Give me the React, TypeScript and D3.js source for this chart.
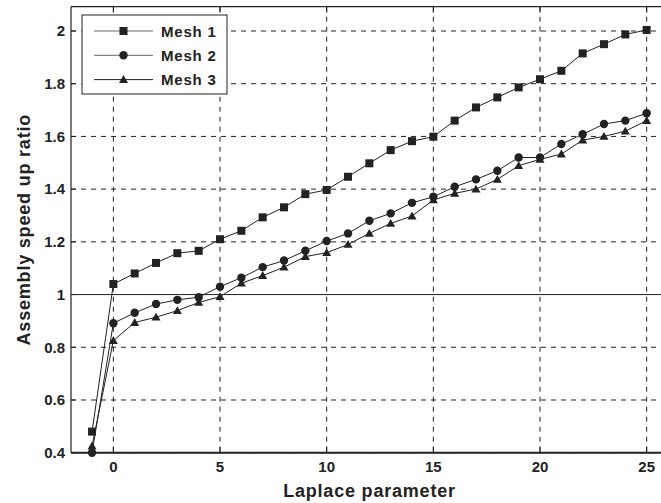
import React from "react";
import * as d3 from "d3";

const xValues = [-1, 0, 1, 2, 3, 4, 5, 6, 7, 8, 9, 10, 11, 12, 13, 14, 15, 16, 17, 18, 19, 20, 21, 22, 23, 24, 25];
const mesh1 = [0.48, 1.04, 1.08, 1.12, 1.157, 1.166, 1.21, 1.242, 1.293, 1.331, 1.381, 1.397, 1.447, 1.498, 1.548, 1.582, 1.599, 1.66, 1.71, 1.748, 1.786, 1.817, 1.849, 1.915, 1.95, 1.987, 2.004];
const mesh2 = [0.4, 0.891, 0.931, 0.964, 0.98, 0.99, 1.03, 1.064, 1.104, 1.129, 1.166, 1.203, 1.232, 1.28, 1.308, 1.348, 1.371, 1.409, 1.437, 1.47, 1.52, 1.52, 1.571, 1.608, 1.647, 1.66, 1.688];
const mesh3 = [0.425, 0.825, 0.894, 0.914, 0.939, 0.97, 0.992, 1.043, 1.072, 1.104, 1.144, 1.159, 1.19, 1.232, 1.27, 1.298, 1.359, 1.384, 1.4, 1.437, 1.489, 1.513, 1.533, 1.586, 1.6, 1.62, 1.66];
const seriesNames = ["Mesh 1", "Mesh 2", "Mesh 3"];
const xTicks = [0, 5, 10, 15, 20, 25];
const yTicks = [0.4, 0.6, 0.8, 1, 1.2, 1.4, 1.6, 1.8, 2];
const yTickLabels = ["0.4", "0.6", "0.8", "1", "1.2", "1.4", "1.6", "1.8", "2"];

const W = 661;
const H = 503;
const plotLeft = 71;
const plotTop = 6.7;
const plotBottom = 452.7;

const x = d3.scaleLinear().domain([-2, 26]).range([70.7, 668]);
const y = d3.scaleLinear().domain([0.4, 2]).range([452.7, 31]);

const FONT = "'Liberation Sans', Arial, Helvetica, sans-serif";
const INK = "#222";

type Kind = "square" | "circle" | "triangle";
const kinds: Kind[] = ["square", "circle", "triangle"];

function Marker({ kind, cx, cy }: { kind: Kind; cx: number; cy: number }) {
  if (kind === "square") {
    return <rect x={cx - 4} y={cy - 4} width={8} height={8} fill={INK} />;
  }
  if (kind === "circle") {
    return <circle cx={cx} cy={cy} r={4.2} fill={INK} />;
  }
  const s = 4.5;
  return (
    <path
      d={`M${cx},${cy - s} L${cx + s},${cy + s * 0.75} L${cx - s},${cy + s * 0.75} Z`}
      fill={INK}
    />
  );
}

export default function App() {
  const allSeries = [mesh1, mesh2, mesh3];
  const line = d3
    .line<number>()
    .x((_, i) => x(xValues[i]))
    .y((d) => y(d));
  const right = x(26);
  const xMid = (plotLeft + right) / 2;
  const yMid = (plotTop + plotBottom) / 2;

  return (
    <svg
      width={W}
      height={H}
      style={{ position: "absolute", left: 0, top: 0, background: "#fff" }}
    >
      <defs>
        <clipPath id="clipAll">
          <rect x={0} y={0} width={W} height={H} />
        </clipPath>
      </defs>
      <g clipPath="url(#clipAll)">
        {xTicks.map((t) => (
          <line
            key={"gx" + t}
            x1={x(t)}
            x2={x(t)}
            y1={plotTop}
            y2={plotBottom}
            stroke={INK}
            strokeWidth={1}
            strokeDasharray="5,5"
          />
        ))}
        {yTicks.map((t) =>
          t === 1 ? (
            <line
              key={"gy" + t}
              x1={plotLeft}
              x2={right}
              y1={y(t)}
              y2={y(t)}
              stroke={INK}
              strokeWidth={1}
            />
          ) : (
            <line
              key={"gy" + t}
              x1={plotLeft}
              x2={right}
              y1={y(t)}
              y2={y(t)}
              stroke={INK}
              strokeWidth={1}
              strokeDasharray="5,5"
            />
          )
        )}
        <line x1={plotLeft} x2={right} y1={plotTop} y2={plotTop} stroke={INK} strokeWidth={1.2} />
        <line x1={plotLeft} x2={plotLeft} y1={plotTop} y2={plotBottom} stroke={INK} strokeWidth={1.2} />
        <line x1={plotLeft} x2={right} y1={plotBottom} y2={plotBottom} stroke={INK} strokeWidth={2} />
        {xTicks.map((t) => (
          <g key={"tx" + t}>
            <line x1={x(t)} x2={x(t)} y1={plotBottom} y2={plotBottom - 6} stroke={INK} />
            <line x1={x(t)} x2={x(t)} y1={plotTop} y2={plotTop + 6} stroke={INK} />
            <text
              x={x(t)}
              y={472}
              textAnchor="middle"
              fontFamily={FONT}
              fontWeight="bold"
              fontSize={15}
              fill={INK}
            >
              {t}
            </text>
          </g>
        ))}
        {yTicks.map((t, i) => (
          <g key={"ty" + t}>
            <line x1={plotLeft} x2={plotLeft + 5} y1={y(t)} y2={y(t)} stroke={INK} />
            <text
              x={65}
              y={y(t) + 5.3}
              textAnchor="end"
              fontFamily={FONT}
              fontWeight="bold"
              fontSize={15}
              fill={INK}
            >
              {yTickLabels[i]}
            </text>
          </g>
        ))}
        {allSeries.map((s, si) => (
          <g key={"s" + si}>
            <path d={line(s) || ""} fill="none" stroke={INK} strokeWidth={1} />
            {s.map((v, i) => (
              <Marker key={i} kind={kinds[si]} cx={x(xValues[i])} cy={y(v)} />
            ))}
          </g>
        ))}
        <rect x={82} y={15} width={145} height={79} fill="#fff" stroke={INK} strokeWidth={1} />
        {seriesNames.map((n, i) => {
          const ly = 31 + i * 24.3;
          return (
            <g key={"lg" + i}>
              <line x1={94} x2={153} y1={ly} y2={ly} stroke={i < 2 ? "#666" : INK} strokeWidth={1} />
              <Marker kind={kinds[i]} cx={123.5} cy={ly} />
              <text
                x={161}
                y={ly + 5.5}
                fontFamily={FONT}
                fontWeight="bold"
                fontSize={15}
                fill={INK}
                letterSpacing={0.8}
              >
                {n}
              </text>
            </g>
          );
        })}
        <text
          x={xMid}
          y={497}
          textAnchor="middle"
          fontFamily={FONT}
          fontWeight="bold"
          fontSize={18}
          fill={INK}
          letterSpacing={0.8}
        >
          Laplace parameter
        </text>
        <text
          transform={`translate(30, ${yMid}) rotate(-90)`}
          textAnchor="middle"
          fontFamily={FONT}
          fontWeight="bold"
          fontSize={18}
          fill={INK}
          letterSpacing={0.8}
        >
          Assembly speed up ratio
        </text>
      </g>
    </svg>
  );
}
